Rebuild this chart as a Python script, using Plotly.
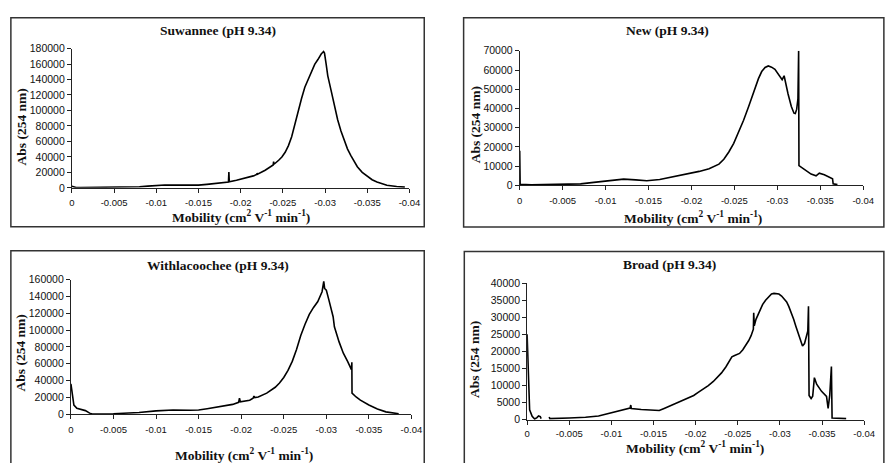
import plotly.graph_objects as go

# ---- electropherogram traces (mobility in cm2 V-1 min-1, absorbance at 254 nm) ----
suwannee_mob = [0, -0.0005, -0.001, -0.003, -0.005, -0.007, -0.008, -0.009, -0.010, -0.011,
                -0.013, -0.015, -0.016, -0.017, -0.018, -0.01855, -0.0186, -0.01865, -0.0195,
                -0.0206, -0.0215, -0.0219, -0.02195, -0.022, -0.0229, -0.0235, -0.02385, -0.0239,
                -0.02395, -0.0245, -0.02488, -0.02527, -0.02566, -0.02604, -0.02644, -0.02682,
                -0.02721, -0.0276, -0.02799, -0.02837, -0.02877, -0.02915, -0.02954, -0.02982,
                -0.02993, -0.03013, -0.03032, -0.03071, -0.0311, -0.03149, -0.03188, -0.03227,
                -0.03265, -0.03304, -0.03343, -0.03382, -0.0344, -0.03499, -0.03557, -0.03615,
                -0.03673, -0.03732, -0.03848, -0.03945]
suwannee_abs = [2000, 500, 400, 700, 600, 900, 1500, 2200, 3000, 3700,
                3500, 3500, 4500, 5800, 7000, 7600, 20500, 7900, 9800,
                12600, 15500, 17300, 19000, 17600, 22800, 27000, 29500, 34000,
                30500, 35700, 39900, 46000, 54600, 66000, 84000, 100000,
                115400, 130000, 140600, 151000, 159500, 165800, 173000, 176200,
                174200, 159500, 144800, 125900, 105000, 88100, 73500, 60900,
                50400, 42000, 34500, 27300, 20100, 14700, 10500, 7600,
                5000, 3400, 1800, 900]

new_mob = [0, -0.00005, -0.00134, -0.00518, -0.00709, -0.00863, -0.0102, -0.0121, -0.0135,
           -0.0148, -0.0163, -0.01783, -0.01936, -0.0209, -0.02205, -0.0232, -0.02377, -0.02435,
           -0.02492, -0.0255, -0.02607, -0.02665, -0.02703, -0.02742, -0.0278, -0.02818, -0.02857,
           -0.02895, -0.02933, -0.02972, -0.0301, -0.0304, -0.03056, -0.03079, -0.03106, -0.03125,
           -0.03163, -0.03194, -0.03209, -0.03225, -0.0324, -0.03248, -0.03252, -0.03317, -0.03393,
           -0.03451, -0.03489, -0.03547, -0.03604, -0.03643, -0.0365, -0.037]
new_abs = [18000, 500, 200, 300, 700, 1500, 2300, 3200, 2800,
           2300, 3000, 4300, 5600, 7200, 8600, 11000, 13500, 17300,
           21800, 27400, 33800, 40900, 46000, 51100, 55500, 59200, 61300,
           62100, 61500, 60400, 58200, 56000, 55000, 57000, 51100, 47500,
           41000, 37500, 37300, 39500, 45000, 70000, 10200, 8000, 5800,
           4900, 6300, 5400, 4100, 3400, 700, 300]

withla_mob = [0, -0.0002, -0.00035, -0.0007, -0.0013, -0.0017, -0.0022, -0.0025, -0.005, -0.008,
              -0.01, -0.012, -0.014, -0.015, -0.016, -0.017, -0.018, -0.019, -0.0197, -0.0198,
              -0.0199, -0.021, -0.0214, -0.0215, -0.0216, -0.022, -0.023, -0.024, -0.0245, -0.025,
              -0.0255, -0.026, -0.0265, -0.027, -0.0275, -0.028, -0.0285, -0.029, -0.0295, -0.0296,
              -0.0297, -0.0298, -0.030, -0.0303, -0.0308, -0.0309, -0.03095, -0.0315, -0.032,
              -0.0325, -0.0329, -0.03295, -0.033, -0.03302, -0.0335, -0.034, -0.035, -0.036,
              -0.037, -0.038, -0.0385]
withla_abs = [36000, 20000, 10800, 6900, 5800, 4200, 1200, 200, 400, 1900,
              3900, 5000, 4600, 5000, 6500, 8100, 9600, 11600, 14000, 19000,
              14600, 16600, 19000, 21500, 19800, 20400, 25000, 32000, 37000, 43600,
              52000, 62800, 77000, 93700, 107000, 118700, 127000, 134000, 145700, 150000,
              158000, 149600, 147600, 136000, 116000, 108000, 104000, 86000, 72500,
              62800, 55000, 53000, 61700, 25000, 20400, 16600, 10800, 6200,
              2700, 1200, 400]

# None breaks the trace where the detector record has a gap
broad_mob = [0, -0.00016, -0.0003, -0.0006, -0.0009, -0.00117, -0.00136, -0.00156,
             -0.00167, None, -0.00262, -0.0027, -0.00498, -0.00693, -0.00848, -0.0093, -0.01004,
             -0.0106, -0.0112, -0.0117, -0.01222, -0.0123, -0.01237, -0.01354, -0.01471, -0.01568,
             -0.01626, -0.01743, -0.0186, -0.0192, -0.01977, -0.0203, -0.02093, -0.0215, -0.0221,
             -0.0226, -0.02307, -0.0236, -0.02405, -0.0243, -0.02463, -0.0249, -0.02521, -0.0256,
             -0.02599, -0.0263, -0.02658, -0.02685, -0.02689, -0.02696, -0.02716, -0.02755,
             -0.02794, -0.0283, -0.02872, -0.029, -0.0293, -0.0296, -0.02988, -0.0302, -0.03047,
             -0.0308, -0.03105, -0.03135, -0.03163, -0.0319, -0.03222, -0.03245, -0.03268,
             -0.03292, -0.03319, -0.03331, -0.03339, -0.03346, -0.0337, -0.03389, -0.03409,
             -0.03436, -0.03494, -0.03553, -0.03572, -0.03591, -0.03611, -0.03619, -0.03786]
broad_abs = [25000, 9600, 2900, 1000, 200, 600, 1100, 900,
             300, None, 800, 300, 500, 700, 1100, 1600, 2100,
             2500, 2800, 3100, 3400, 4300, 3300, 3000, 2800, 2700,
             3300, 4500, 5700, 6400, 7100, 8000, 9000, 10000, 11200,
             12400, 13700, 15500, 17500, 18400, 18800, 19000, 19400, 20500,
             21800, 23200, 24600, 26500, 31300, 27500, 29400, 31800,
             33700, 35000, 36200, 36800, 37000, 36900, 36800, 36200, 35500,
             34500, 33200, 31500, 29400, 27300, 25100, 23000, 21600,
             22300, 25100, 26000, 33200, 7100, 6200, 6900, 12300,
             10400, 8300, 6800, 3300, 7100, 15600, 500, 300]

titles = ["Suwannee (pH 9.34)", "New (pH 9.34)", "Withlacoochee (pH 9.34)", "Broad (pH 9.34)"]
mob_ticks = [0, -0.005, -0.01, -0.015, -0.02, -0.025, -0.03, -0.035, -0.04]
mob_ticktext = ["0", "-0.005", "-0.01", "-0.015", "-0.02", "-0.025", "-0.03", "-0.035", "-0.04"]
abs_max = [180000, 70000, 160000, 40000]
abs_step = [20000, 10000, 20000, 5000]

x_label = "Mobility (cm<sup>2</sup> V<sup>-1</sup> min<sup>-1</sup>)"
y_label = "Abs (254 nm)"

W, H = 887, 463


def px(x):
    return x / W


def py(y):
    return 1 - y / H


# plot-area placement of each panel (left, right, bottom, top) in pixels
areas = [
    (70, 413, 186.7, 43.7),
    (525, 874, 184, 46),
    (69, 415, 419, 281),
    (532.5, 875, 424.7, 284.5),
]
frames = [
    (8, 428, 226.7, 12),
    (468, 895, 227, 12),
    (8, 428, 470, 251.3),
    (468.7, 895, 470, 252),
]
title_pos = [(218, 25), (675, 25), (218, 266), (677, 265.5)]
xlab_pos = [(241.7, 216), (701, 217), (245, 460), (703, 453)]
ylab_pos = [(19, 124), (480, 122), (18, 356), (479, 363)]

traces = [(suwannee_mob, suwannee_abs), (new_mob, new_abs),
          (withla_mob, withla_abs), (broad_mob, broad_abs)]

fig = go.Figure()
layout = dict(
    width=W, height=H,
    margin=dict(l=0, r=0, t=0, b=0),
    paper_bgcolor="white", plot_bgcolor="white",
    showlegend=False,
    shapes=[], annotations=[],
)

x_tick_font = dict(family="Liberation Sans, Arial", size=9.5, color="#111")
y_tick_font = dict(family="Liberation Sans, Arial", size=10.5, color="#111")
serif_bold = "Liberation Serif, Times New Roman"

for i, ((mob, ab), area) in enumerate(zip(traces, areas)):
    n = "" if i == 0 else str(i + 1)
    fig.add_trace(go.Scatter(
        x=mob, y=ab, mode="lines",
        line=dict(color="black", width=1.6),
        xaxis="x" + n, yaxis="y" + n,
        connectgaps=False, hoverinfo="skip",
    ))
    l, r, b, t = area
    yvals = list(range(0, abs_max[i] + 1, abs_step[i]))
    layout["xaxis" + n] = dict(
        domain=[px(l), px(r)], range=[0, -0.04], anchor="y" + n,
        tickvals=mob_ticks, ticktext=mob_ticktext,
        showline=True, linecolor="#222", linewidth=1,
        ticks="outside", ticklen=4, tickcolor="#222", tickwidth=1,
        showgrid=False, zeroline=False, tickfont=x_tick_font,
        ticklabelstandoff=1 if i == 3 else 2,
    )
    layout["yaxis" + n] = dict(
        domain=[py(b), py(t)], range=[0, abs_max[i]], anchor="x" + n,
        tickvals=yvals, ticktext=[str(v) for v in yvals],
        showline=True, linecolor="#222", linewidth=1,
        ticks="outside", ticklen=4, tickcolor="#222", tickwidth=1,
        showgrid=False, zeroline=False, tickfont=y_tick_font,
    )
    fl, fr, fb, ft = frames[i]
    layout["shapes"].append(dict(
        type="rect", xref="paper", yref="paper",
        x0=px(fl), x1=px(fr), y0=py(fb), y1=py(ft),
        line=dict(color="#333", width=1.5), fillcolor="rgba(0,0,0,0)", layer="below",
    ))
    tx, ty = title_pos[i]
    layout["annotations"].append(dict(
        text="<b>" + titles[i] + "</b>", x=px(tx), y=py(ty), xref="paper", yref="paper",
        showarrow=False, xanchor="center", yanchor="middle",
        font=dict(family=serif_bold, size=13.5, color="#111"),
    ))
    xx, xy = xlab_pos[i]
    layout["annotations"].append(dict(
        text="<b>" + x_label + "</b>", x=px(xx), y=py(xy), xref="paper", yref="paper",
        showarrow=False, xanchor="center", yanchor="middle",
        font=dict(family=serif_bold, size=13.5, color="#111"),
    ))
    yx, yy = ylab_pos[i]
    layout["annotations"].append(dict(
        text="<b>" + y_label + "</b>", x=px(yx), y=py(yy), xref="paper", yref="paper",
        showarrow=False, xanchor="center", yanchor="middle", textangle=-90,
        font=dict(family=serif_bold, size=13.5, color="#111"),
    ))

fig.update_layout(**layout)
fig.write_html("out.html")
